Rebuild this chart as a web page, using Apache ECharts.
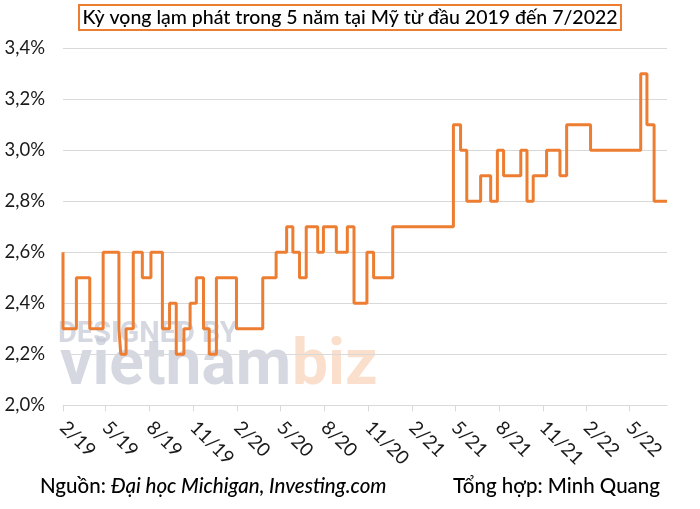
<!DOCTYPE html>
<html>
<head>
<meta charset="utf-8">
<script src="https://cdn.jsdelivr.net/npm/echarts@6/dist/echarts.min.js"></script>
<style>
html,body{margin:0;padding:0;background:#fff;}
#chart{width:700px;height:509px;}
</style>
</head>
<body>
<div id="chart"></div>
<script>
// Release dates (value valid from this date on) and 5-year inflation expectations (%)
const releaseDates = ['2019-02-01','2019-02-01','2019-03-01','2019-03-29','2019-04-26','2019-05-29','2019-06-02','2019-06-13','2019-06-28','2019-07-17','2019-08-04','2019-08-28','2019-09-12','2019-09-26','2019-10-12','2019-10-25','2019-11-07','2019-11-22','2019-12-04','2019-12-19','2020-01-30','2020-03-25','2020-04-22','2020-05-14','2020-05-27','2020-06-10','2020-06-24','2020-07-18','2020-07-30','2020-08-26','2020-09-18','2020-10-02','2020-10-29','2020-11-12','2020-12-22','2021-04-28','2021-05-13','2021-05-26','2021-06-24','2021-07-15','2021-07-29','2021-08-11','2021-09-16','2021-09-29','2021-10-12','2021-11-09','2021-12-07','2021-12-21','2022-02-09','2022-05-25','2022-06-07','2022-06-22','2022-07-19'];
const expectations = [2.6,2.3,2.5,2.3,2.6,2.3,2.2,2.3,2.6,2.5,2.6,2.3,2.4,2.2,2.3,2.4,2.5,2.3,2.2,2.5,2.3,2.5,2.6,2.7,2.6,2.5,2.7,2.6,2.7,2.6,2.7,2.4,2.6,2.5,2.7,3.1,3.0,2.8,2.9,2.8,3.0,2.9,3.0,2.8,2.9,3.0,2.9,3.1,3.0,3.3,3.1,2.8,2.8];
// Axis ticks (every 3 months) and range
const tickDates = ['2019-02-01','2019-05-01','2019-08-01','2019-11-01','2020-02-01','2020-05-01','2020-08-01','2020-11-01','2021-02-01','2021-05-01','2021-08-01','2021-11-01','2022-02-01','2022-05-01'];
const axisStart = '2019-02-01';
const axisEnd = '2022-07-19';
const yTicks = [2.0, 2.2, 2.4, 2.6, 2.8, 3.0, 3.2, 3.4];

function toTs(s){ const p = s.split('-').map(Number); return Date.UTC(p[0], p[1]-1, p[2]); }

const seriesData = releaseDates.map((d, i) => [toTs(d), expectations[i]]);
const tickTs = tickDates.map(toTs);

const chart = echarts.init(document.getElementById('chart'), null, {renderer: 'canvas'});
const FONT = 'Lato';
chart.setOption({
  animation: false,
  backgroundColor: '#ffffff',
  title: {
    text: 'Kỳ vọng lạm phát trong 5 năm tại Mỹ từ đầu 2019 đến 7/2022',
    left: 'center',
    top: 5,
    padding: [3, 4, 2, 4],
    borderColor: '#ED7D31',
    borderWidth: 2,
    textStyle: { fontFamily: FONT, fontSize: 19.5, fontWeight: 500, color: '#000' }
  },
  grid: { left: 63, right: 33, top: 48.3, bottom: 103.7, containLabel: false },
  xAxis: {
    type: 'value',
    min: toTs(axisStart),
    max: toTs(axisEnd),
    axisLine: { show: true, lineStyle: { color: '#d9d9d9', width: 1 } },
    axisTick: { show: true, customValues: tickTs, length: 6, lineStyle: { color: '#d9d9d9' } },
    splitLine: { show: false },
    axisLabel: {
      customValues: tickTs,
      rotate: -45,
      margin: 19,
      fontFamily: FONT,
      fontSize: 19,
      color: '#1a1a1a',
      formatter: function (v) {
        const d = new Date(v);
        return (d.getUTCMonth() + 1) + '/' + String(d.getUTCFullYear()).slice(2);
      }
    }
  },
  yAxis: {
    type: 'value',
    min: yTicks[0],
    max: yTicks[yTicks.length - 1],
    interval: 0.2,
    axisLine: { show: false },
    axisTick: { show: false },
    splitLine: { show: true, lineStyle: { color: '#d9d9d9', width: 1 } },
    axisLabel: {
      margin: 18,
      fontFamily: FONT,
      fontSize: 18.5,
      color: '#1a1a1a',
      formatter: function (v) { return v.toFixed(1).replace('.', ',') + '%'; }
    }
  },
  graphic: [
    { type: 'text', left: 58, top: 320, z: 0, silent: true,
      style: { text: 'DESIGNED BY', fontFamily: 'Roboto', fontWeight: 'bold', fontSize: 29, fill: '#c3c8d4', opacity: 0.7 } },
    { type: 'text', left: 60, top: 336, z: 0, silent: true,
      style: { text: 'vietnam', fontFamily: 'Roboto', fontWeight: 'bold', fontSize: 64, fill: '#c3c8d4', opacity: 0.7 } },
    { type: 'text', left: 292, top: 336, z: 0, silent: true,
      style: { text: 'biz', fontFamily: 'Roboto', fontWeight: 'bold', fontSize: 64, fill: '#f6d2b6', opacity: 0.7 } },
    { type: 'text', left: 40, top: 476, z: 10,
      style: { rich: { a: { fontFamily: FONT, fontSize: 20.5, fontWeight: 500, fill: '#000' }, b: { fontFamily: FONT, fontSize: 20.5, fontWeight: 500, fontStyle: 'italic', fill: '#000' } },
               text: '{a|Nguồn: }{b|Đại học Michigan, Investing.com}' } },
    { type: 'text', right: 40, top: 476, z: 10,
      style: { text: 'Tổng hợp: Minh Quang', fontFamily: FONT, fontSize: 20.5, fontWeight: 500, fill: '#000' } }
  ],
  series: [{
    type: 'line',
    step: 'end',
    data: seriesData,
    showSymbol: false,
    z: 5,
    lineStyle: { color: '#ED7D31', width: 3 },
    itemStyle: { color: '#ED7D31' }
  }]
});
</script>
</body>
</html>
